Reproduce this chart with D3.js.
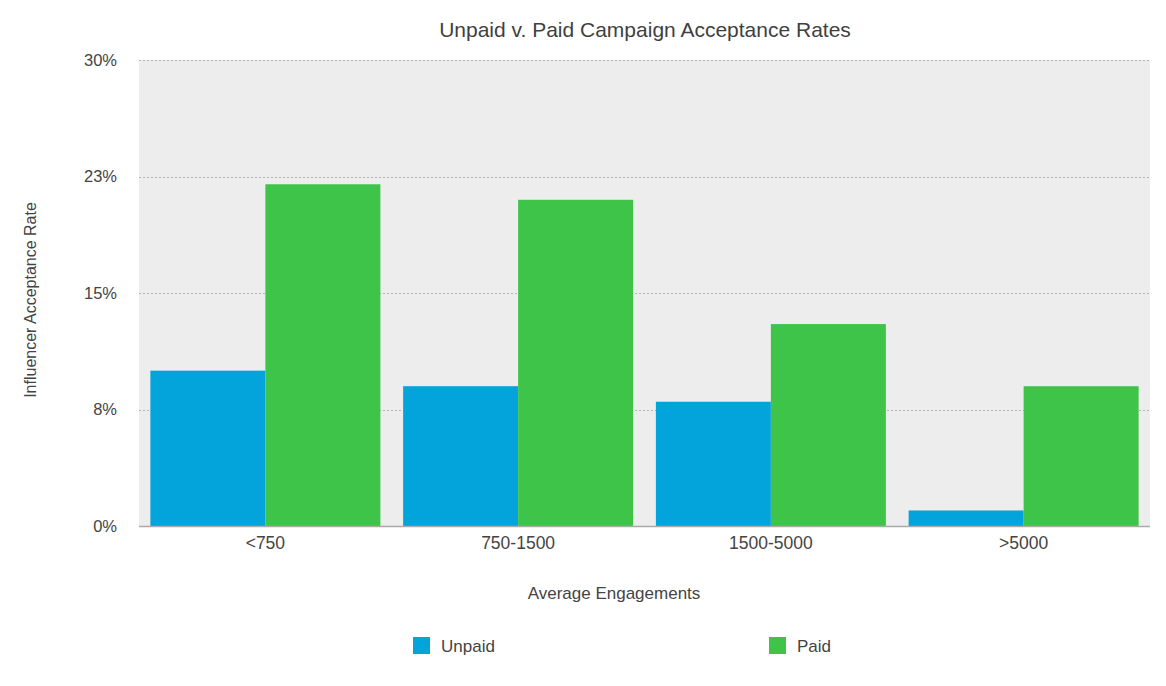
<!DOCTYPE html>
<html>
<head>
<meta charset="utf-8">
<script src="https://cdn.jsdelivr.net/npm/d3@7"></script>
<style>
  html, body { margin: 0; padding: 0; background: #fff; }
  svg { display: block; font-family: "Liberation Sans", Arial, Helvetica, sans-serif; }
</style>
</head>
<body>
<svg id="chart" width="1166" height="686"></svg>
<script>
const categories = ["<750", "750-1500", "1500-5000", ">5000"];
const seriesNames = ["Unpaid", "Paid"];
const unpaidValues = [10, 9, 8, 1];
const paidValues = [22, 21, 13, 9];
const yTickValues = [0, 7.5, 15, 22.5, 30];
const yTickLabels = ["0%", "8%", "15%", "23%", "30%"];
const colors = ["#03a3dc", "#3ec449"];

const svg = d3.select("#chart");
const margin = { left: 139, right: 16, top: 60, bottom: 160 };
const W = 1166, H = 686;
const x0 = d3.scaleBand().domain(categories).range([margin.left, W - margin.right])
  .paddingInner(0.09).paddingOuter(0.045);
const x1 = d3.scaleBand().domain(seriesNames).range([0, x0.bandwidth()]).padding(0);
const y = d3.scaleLinear().domain([0, 30]).range([H - margin.bottom, margin.top]);

const textColor = "#444";

// background
svg.append("rect")
  .attr("x", margin.left).attr("y", y(30))
  .attr("width", W - margin.right - margin.left)
  .attr("height", y(0) - y(30))
  .attr("fill", "#ededed");

// gridlines
svg.append("g").selectAll("line").data(yTickValues.slice(1)).join("line")
  .attr("x1", margin.left).attr("x2", W - margin.right)
  .attr("y1", d => Math.round(y(d)) + 0.5).attr("y2", d => Math.round(y(d)) + 0.5)
  .attr("stroke", "#b4b4b4").attr("stroke-width", 1).attr("stroke-dasharray", "2,2");

// y axis
const yAxis = d3.axisLeft(y).tickValues(yTickValues)
  .tickFormat((d, i) => yTickLabels[i]).tickSize(0).tickPadding(22);
const gy = svg.append("g").attr("transform", `translate(${margin.left},0)`).call(yAxis);
gy.select(".domain").remove();
gy.selectAll("text").attr("fill", textColor).style("font-size", "16.5px")
  .attr("font-family", "Liberation Sans, Arial, sans-serif");

// bars
const data = categories.map((c, i) => ({ cat: c, vals: [unpaidValues[i], paidValues[i]] }));
const groups = svg.append("g").selectAll("g").data(data).join("g")
  .attr("transform", d => `translate(${x0(d.cat)},0)`);
groups.selectAll("rect").data(d => d.vals.map((v, k) => ({ k, v }))).join("rect")
  .attr("x", d => x1(seriesNames[d.k]))
  .attr("y", d => y(d.v))
  .attr("width", x1.bandwidth())
  .attr("height", d => y(0) - y(d.v))
  .attr("fill", d => colors[d.k]);

// x axis
const xAxis = d3.axisBottom(x0).tickSize(0).tickPadding(11);
const gx = svg.append("g").attr("transform", `translate(0,${y(0)})`).call(xAxis);
gx.select(".domain").attr("stroke", "#aaaaaa").attr("stroke-width", 1.5)
  .attr("d", `M${margin.left},0.5H${W - margin.right}`);
gx.selectAll("text").attr("fill", textColor).style("font-size", "17.5px")
  .attr("font-family", "Liberation Sans, Arial, sans-serif");

// title
svg.append("text").attr("x", 645).attr("y", 37).attr("text-anchor", "middle")
  .attr("fill", "#3f3f3f").style("font-size", "21px").style("font-weight", "normal")
  .text("Unpaid v. Paid Campaign Acceptance Rates");

// axis titles
svg.append("text").attr("x", 614).attr("y", 599).attr("text-anchor", "middle")
  .attr("fill", textColor).style("font-size", "17px").text("Average Engagements");
svg.append("text").attr("transform", "translate(36,300) rotate(-90)").attr("text-anchor", "middle")
  .attr("fill", textColor).style("font-size", "16px").text("Influencer Acceptance Rate");

// legend
const legendX = [413, 769];
const leg = svg.append("g").selectAll("g").data(seriesNames).join("g")
  .attr("transform", (d, i) => `translate(${legendX[i]},637)`);
leg.append("rect").attr("width", 17).attr("height", 17).attr("fill", (d, i) => colors[i]);
leg.append("text").attr("x", 28).attr("y", 15).attr("fill", textColor)
  .style("font-size", "17px").text(d => d);
</script>
</body>
</html>
